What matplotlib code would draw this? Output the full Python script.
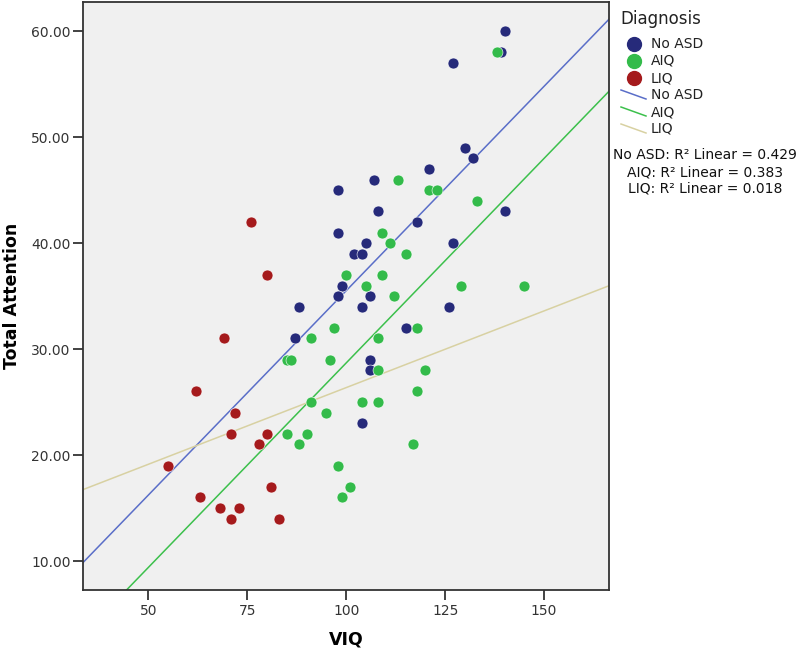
import numpy as np
import matplotlib
matplotlib.use("Agg")
import matplotlib.pyplot as plt
from matplotlib.lines import Line2D

# VIQ / Total Attention per diagnosis group
no_asd_viq = [140, 139, 127, 130, 132, 121, 107, 98, 108, 140, 118, 98, 105, 127,
              102, 104, 99, 98, 106, 88, 104, 126, 115, 87, 106, 106, 104]
no_asd_att = [60, 58, 57, 49, 48, 47, 46, 45, 43, 43, 42, 41, 40, 40,
              39, 39, 36, 35, 35, 34, 34, 34, 32, 31, 29, 28, 23]

aiq_viq = [138, 113, 121, 123, 133, 109, 111, 115, 100, 109, 105, 129, 145, 112,
           97, 118, 91, 108, 85, 86, 96, 108, 120, 118, 91, 104, 108, 95,
           85, 90, 88, 117, 98, 101, 99]
aiq_att = [58, 46, 45, 45, 44, 41, 40, 39, 37, 37, 36, 36, 36, 35,
           32, 32, 31, 31, 29, 29, 29, 28, 28, 26, 25, 25, 25, 24,
           22, 22, 21, 21, 19, 17, 16]

liq_viq = [76, 80, 69, 62, 72, 71, 80, 78, 55, 81, 63, 68, 73, 71, 83]
liq_att = [42, 37, 31, 26, 24, 22, 22, 21, 19, 17, 16, 15, 15, 14, 14]

groups = ["No ASD", "AIQ", "LIQ"]
r2_values = [0.429, 0.383, 0.018]
x_ticks = [50, 75, 100, 125, 150]
y_ticks = [10, 20, 30, 40, 50, 60]

point_colors = ["#262a7a", "#33bb4a", "#a51a1c"]
line_colors = ["#5a6ec8", "#3cc04c", "#d8d1a2"]

W, H = 800, 651
fig = plt.figure(figsize=(W / 100, H / 100), dpi=100)
fig.patch.set_facecolor("white")
ax = fig.add_axes([83 / W, 1 - 590 / H, (609 - 83) / W, (590 - 2) / H])
ax.set_facecolor("#f0f0f0")
ax.set_xlim(33.5, 166.4)
ax.set_ylim(7.27, 62.75)

data = [(no_asd_viq, no_asd_att), (aiq_viq, aiq_att), (liq_viq, liq_att)]
xs = np.array(ax.get_xlim())
for (vx, vy), lc in zip(data, line_colors):
    slope, icpt = np.polyfit(vx, vy, 1)
    ax.plot(xs, slope * xs + icpt, color=lc, linewidth=1.1, zorder=2)
for (vx, vy), pc in zip(data, point_colors):
    ax.scatter(vx, vy, s=62, color=pc, edgecolors="white", linewidths=0.4, zorder=3)

ax.set_xticks(x_ticks)
ax.set_yticks(y_ticks)
ax.set_yticklabels([f"{v:.2f}" for v in y_ticks])
ax.tick_params(direction="out", length=7, width=1.2, color="#222222",
               labelsize=10, labelcolor="#333333", pad=2)
ax.tick_params(axis="x", pad=3)
for s in ax.spines.values():
    s.set_color("#333333")
    s.set_linewidth(1.3)
ax.set_xlabel("VIQ", fontsize=12.5, fontweight="bold", labelpad=9)
ax.set_ylabel("Total Attention", fontsize=12.5, fontweight="bold", labelpad=7)

# legend drawn by hand in pixel coordinates
def fx(px):
    return px / W

def fy(py):
    return 1 - py / H

fig.text(fx(620), fy(19), "Diagnosis", fontsize=12, va="center", ha="left", color="#222222")
ys = [44, 61, 78, 95, 112, 129]
for i, name in enumerate(groups):
    fig.add_artist(Line2D([fx(634)], [fy(ys[i])], marker="o", markersize=10,
                          color=point_colors[i], linestyle="none"))
    fig.text(fx(651), fy(ys[i]), name, fontsize=10, va="center", ha="left", color="#222222")
for i, name in enumerate(groups):
    y0 = ys[i + 3]
    fig.add_artist(Line2D([fx(621), fx(646)], [fy(y0 - 5), fy(y0 + 4)],
                          color=line_colors[i], linewidth=1.1))
    fig.text(fx(651), fy(y0), name, fontsize=10, va="center", ha="left", color="#222222")

r2_y = [155, 172, 189]
for i, name in enumerate(groups):
    fig.text(fx(705), fy(r2_y[i]), f"{name}: R\u00b2 Linear = {r2_values[i]:.3f}",
             fontsize=10, va="center", ha="center", color="#111111")

fig.savefig("out.png", dpi=100)
